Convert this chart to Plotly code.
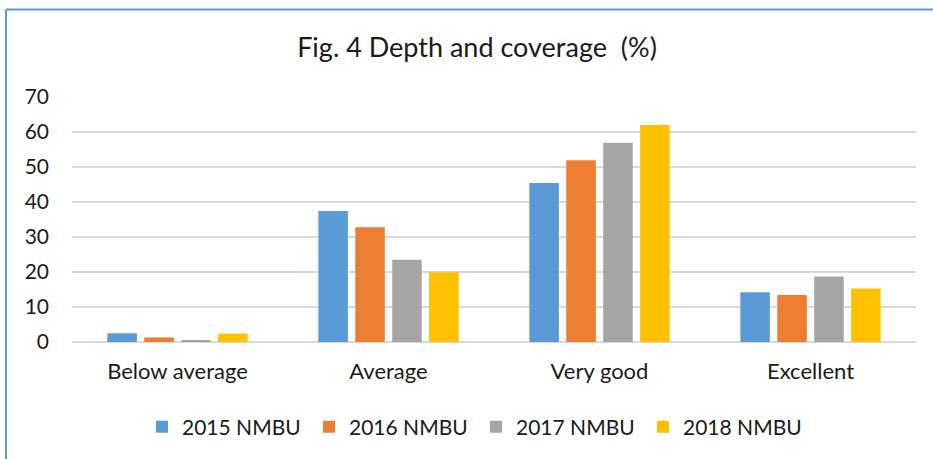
import plotly.graph_objects as go

categories = ["Below average", "Average", "Very good", "Excellent"]
series_names = ["2015 NMBU", "2016 NMBU", "2017 NMBU", "2018 NMBU"]
v2015 = [2.5, 37.4, 45.4, 14.2]
v2016 = [1.3, 32.8, 51.9, 13.4]
v2017 = [0.5, 23.5, 56.9, 18.7]
v2018 = [2.4, 19.9, 62.0, 15.3]
colors = ["#5B9BD5", "#ED7D31", "#A5A5A5", "#FFC000"]
y_ticks = [0, 10, 20, 30, 40, 50, 60, 70]

FONT = "Lato"
fig = go.Figure()
for name, vals, col in zip(series_names, [v2015, v2016, v2017, v2018], colors):
    fig.add_trace(go.Bar(x=categories, y=vals, name=name,
                         marker=dict(color=col, line=dict(width=0))))

W, H = 933, 459
L, R, T, B = 72, 17, 97, 117
pw = W - L - R
ph = H - T - B

def px_x(x):
    return (x - L) / pw

def px_y(y):
    return (H - B - y) / ph

fig.update_layout(
    width=W, height=H,
    margin=dict(l=L, r=R, t=T, b=B),
    paper_bgcolor="white", plot_bgcolor="white",
    barmode="group", bargap=0.3, bargroupgap=0.2,
    font=dict(family=FONT, color="#1a1a1a", size=20),
    title=dict(text="Fig. 4 Depth and coverage\u00a0 (%)", x=477 / W, xref="container",
               xanchor="center", y=1 - 48 / H, yref="container", yanchor="middle",
               font=dict(family=FONT, size=27, color="#1a1a1a")),
    showlegend=True,
    legend=dict(orientation="h", x=px_x(476), xanchor="center", y=px_y(427), yanchor="middle",
                font=dict(family=FONT, size=21, color="#1a1a1a"),
                entrywidth=122, entrywidthmode="pixels", itemwidth=30,
                traceorder="normal"),
    xaxis=dict(showgrid=False, showline=False, ticks="", ticklabelstandoff=14,
               tickfont=dict(family=FONT, size=22, color="#1a1a1a")),
    yaxis=dict(range=[0, 70], tickvals=y_ticks, showgrid=True, gridcolor="#D9D9D9",
               gridwidth=2, zeroline=True, zerolinecolor="#D9D9D9", zerolinewidth=2,
               showline=False, ticks="", ticklabelstandoff=22,
               tickfont=dict(family=FONT, size=21, color="#1a1a1a")),
    shapes=[
        dict(type="line", xref="paper", yref="paper", x0=px_x(6), x1=px_x(940),
             y0=px_y(9.5), y1=px_y(9.5), line=dict(color="#5B9BD5", width=2)),
        dict(type="line", xref="paper", yref="paper", x0=px_x(6), x1=px_x(6),
             y0=px_y(9.5), y1=px_y(470), line=dict(color="#5B9BD5", width=2)),
    ],
)

fig.write_html("out.html", config={"displayModeBar": False},
               post_script="document.body.style.margin='0';")
